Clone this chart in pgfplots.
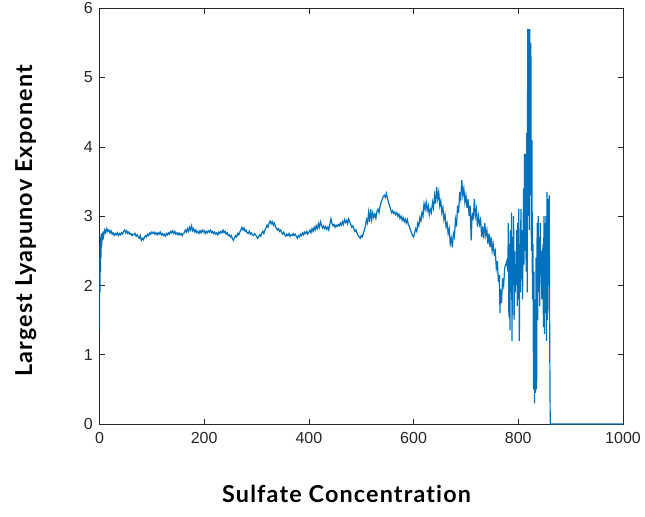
\documentclass[border=0pt]{standalone}
\usepackage{pgfplots}
\pgfplotsset{compat=1.18}
\usepackage{fontspec}
\setmainfont{Liberation Sans}
\newfontfamily\labelfont[LetterSpace=5,Ligatures=NoCommon]{Lato}
\definecolor{mblue}{RGB}{0,114,189}
\definecolor{axgray}{RGB}{38,38,38}
\begin{document}
\begin{tikzpicture}
\useasboundingbox (-74.6pt,-69pt) rectangle (409.1pt,318pt);
\begin{axis}[
  at={(0,0)}, anchor=origin,
  scale only axis, width=392.6pt, height=311.8pt,
  xmin=0, xmax=1000, ymin=0, ymax=6,
  xtick={0,200,400,600,800,1000},
  ytick={0,1,2,3,4,5,6},
  axis line style={axgray, line width=0.5pt},
  tick style={axgray, line width=0.5pt},
  major tick length=4pt,
  tick align=inside,
  scaled ticks=false,
  /pgf/number format/assume math mode=true,
  /pgf/number format/1000 sep={},
  ticklabel style={font=\fontsize{12}{14}\selectfont, text=axgray},
  xticklabel style={yshift=-3pt},
  yticklabel style={xshift=-1.5pt},
  xlabel={Sulfate Concentration},
  ylabel={Largest Lyapunov Exponent},
  label style={font=\labelfont\bfseries\fontsize{17.5}{20}\selectfont, text=black},
  xlabel style={at={(axis description cs:0.5,0)}, anchor=base, yshift=-59pt, xshift=-11pt},
  ylabel style={at={(axis description cs:0,0.489)}, anchor=base, rotate=0, yshift=50.5pt},
]
\addplot[mblue, line width=0.9pt] coordinates {
(0,1.35) (0.5,2.4) (1,1.9) (1.5,2.6) (2,2.2) (2.5,2.7) (3,2.4) (3.5,2.75) (4,2.55) (5,2.75) (6,2.65) (7,2.78) (8,2.72)
(10,2.8) (12,2.76) (14,2.82) (16,2.78) (18,2.8) (20,2.76) (22,2.79) (24,2.74) (26,2.76) (28,2.72) (30,2.75) (32,2.73) (34,2.76) (36,2.72) (38,2.75) (40,2.73) (42,2.76) (44,2.74) (46,2.78) (48,2.8) (50,2.76) (52,2.79) (54,2.75) (56,2.77) (58,2.74) (60,2.75) (62,2.72) (64,2.74) (66,2.73) (68,2.75) (70,2.71) (72,2.73) (74,2.70) (76,2.68) (78,2.72) (80,2.65) (82,2.68) (84,2.66) (86,2.70) (88,2.72) (90,2.7) (92,2.74) (94,2.72) (96,2.76) (98,2.74)
(100,2.77) (102,2.75) (104,2.77) (106,2.74) (108,2.76) (110,2.73) (112,2.76) (114,2.74) (116,2.77) (118,2.73) (120,2.75) (122,2.72) (124,2.74) (126,2.71) (128,2.75) (130,2.73) (132,2.76) (134,2.74) (136,2.78) (138,2.76) (140,2.79) (142,2.75) (144,2.78) (146,2.74) (148,2.76) (150,2.73) (152,2.76) (154,2.73) (156,2.75) (158,2.72) (160,2.75) (162,2.76) (164,2.8) (166,2.77) (168,2.82) (170,2.78) (172,2.84) (174,2.8) (176,2.86) (178,2.79) (180,2.82) (182,2.77) (184,2.8) (186,2.76) (188,2.78) (190,2.75) (192,2.79) (194,2.76) (196,2.8) (198,2.77)
(200,2.79) (202,2.75) (204,2.78) (206,2.76) (208,2.79) (210,2.77) (212,2.8) (214,2.76) (216,2.78) (218,2.75) (220,2.77) (222,2.74) (224,2.76) (226,2.73) (228,2.77) (230,2.75) (232,2.78) (234,2.76) (236,2.8) (238,2.76) (240,2.78) (242,2.74) (244,2.76) (246,2.72) (248,2.73) (250,2.7) (252,2.72) (254,2.67) (256,2.65) (258,2.69) (260,2.72) (262,2.7) (264,2.75) (266,2.73) (268,2.77) (270,2.8) (272,2.84) (274,2.8) (276,2.83) (278,2.78) (280,2.8) (282,2.76) (284,2.75) (286,2.78) (288,2.74) (290,2.76) (292,2.73) (294,2.72) (296,2.75) (298,2.73)
(300,2.71) (302,2.68) (304,2.7) (306,2.73) (308,2.71) (310,2.75) (312,2.78) (314,2.75) (316,2.8) (318,2.83) (320,2.87) (322,2.84) (324,2.9) (326,2.93) (328,2.89) (330,2.92) (332,2.87) (334,2.9) (336,2.85) (338,2.82) (340,2.8) (342,2.82) (344,2.78) (346,2.8) (348,2.76) (350,2.74) (352,2.77) (354,2.73) (356,2.71) (358,2.74) (360,2.72) (362,2.75) (364,2.71) (366,2.73) (368,2.72) (370,2.75) (372,2.72) (374,2.74) (376,2.71) (378,2.68) (380,2.72) (382,2.7) (384,2.74) (386,2.72) (388,2.76) (390,2.73) (392,2.77) (394,2.75) (396,2.78) (398,2.74)
(400,2.77) (402,2.8) (404,2.76) (406,2.82) (408,2.78) (410,2.84) (412,2.8) (414,2.86) (416,2.82) (418,2.89) (420,2.84) (422,2.92) (424,2.87) (426,2.83) (428,2.86) (430,2.82) (432,2.85) (434,2.81) (436,2.84) (438,2.8) (440,2.88) (442,2.96) (444,2.9) (446,2.86) (448,2.88) (450,2.84) (452,2.87) (454,2.85) (456,2.88) (458,2.86) (460,2.9) (462,2.87) (464,2.92) (466,2.88) (468,2.95) (470,2.91) (472,2.94) (474,2.89) (476,2.96) (478,2.92) (480,2.88) (482,2.84) (484,2.86) (486,2.82) (488,2.78) (490,2.8) (492,2.75) (494,2.72) (496,2.7) (498,2.68)
(500,2.72) (502,2.7) (504,2.75) (506,2.8) (508,2.86) (510,2.95) (512,2.9) (514,3.05) (516,2.92) (518,3.1) (520,2.95) (522,3.05) (524,2.98) (526,3.03) (528,2.97) (530,3.07) (532,3.1) (534,3.05) (536,3.15) (538,3.2) (540,3.24) (542,3.28) (544,3.3) (546,3.27) (548,3.33) (550,3.26) (552,3.2) (554,3.15) (556,3.1) (558,3.05) (560,3.08) (562,3.04) (564,3.06) (566,3.02) (568,3.05) (570,3.0) (572,3.03) (574,2.97) (576,3.0) (578,2.94) (580,2.98) (582,2.92) (584,2.96) (586,2.9) (588,2.95) (590,2.88) (592,2.85) (594,2.8) (596,2.76) (598,2.72)
(600,2.7) (602,2.76) (604,2.82) (606,2.78) (608,2.9) (610,2.86) (612,2.98) (614,2.93) (616,3.05) (618,3.0) (620,3.18) (622,3.1) (624,3.2) (626,3.08) (628,3.15) (630,3.02) (632,3.1) (634,3.05) (636,3.2) (638,3.12) (640,3.3) (642,3.18) (644,3.42) (646,3.25) (648,3.35) (650,3.15) (652,3.22) (654,3.05) (656,3.12) (658,2.95) (660,3.02) (662,2.85) (664,2.9) (666,2.75) (668,2.82) (670,2.6) (672,2.68) (674,2.55) (676,2.75) (678,2.7) (680,2.95) (682,2.85) (684,3.15) (686,3.05) (688,3.35) (690,3.25) (692,3.52) (694,3.3) (696,3.4) (698,3.2)
(700,3.3) (702,3.12) (704,3.25) (706,3.0) (708,3.15) (710,2.65) (712,3.05) (714,2.95) (716,3.25) (718,3.0) (720,3.1) (722,2.85) (724,3.0) (726,2.88) (728,2.95) (730,2.7) (732,2.85) (734,2.68) (736,2.9) (738,2.72) (740,2.8) (742,2.6) (744,2.75) (746,2.55) (748,2.7) (750,2.5) (752,2.6) (754,2.45) (756,2.5) (758,2.25) (760,2.35) (762,2.05) (764,2.15) (765,1.6) (766,1.95) (768,1.75) (770,2.1) (772,2.0) (774,2.25) (776,2.3) (778,2.35) (780,2.2)
(781,2.9) (782,1.55) (783,2.6) (784,1.35) (785,2.8) (786,1.9) (787,3.05) (788,1.2) (789,2.7) (790,2.0) (791,3.0) (792,1.5) (793,2.5) (794,1.9) (795,2.3) (796,2.0) (797,2.8) (798,1.7) (799,2.9) (800,1.8) (801,3.1) (802,1.2) (803,2.6) (804,1.9) (805,3.1) (806,2.1) (807,2.8) (808,1.8) (809,2.4) (810,3.4) (811,2.3) (812,3.9) (813,2.5) (814,3.9) (815,2.2) (816,4.2) (817,1.9) (818,5.7) (819,3.0) (820,5.7) (821,2.8) (822,5.7) (823,3.3) (824,5.5) (825,2.5) (826,4.1) (827,1.8) (828,2.6) (829,0.5) (830,2.2) (831,0.3) (832,1.8) (833,0.45) (834,2.4) (835,0.5) (836,2.9) (837,1.5) (838,3.0) (839,1.9) (840,2.7) (841,1.7) (842,2.9) (843,2.2) (844,2.5) (845,1.8) (846,2.0) (847,2.6) (848,1.4) (849,3.0) (850,1.3) (851,2.9) (852,1.6) (853,3.0) (854,1.2) (855,3.35) (856,1.5) (857,3.25) (858,2.0) (859,3.3) (860,1.2) (861,0) (1000,0)
};
\end{axis}
\end{tikzpicture}
\end{document}
